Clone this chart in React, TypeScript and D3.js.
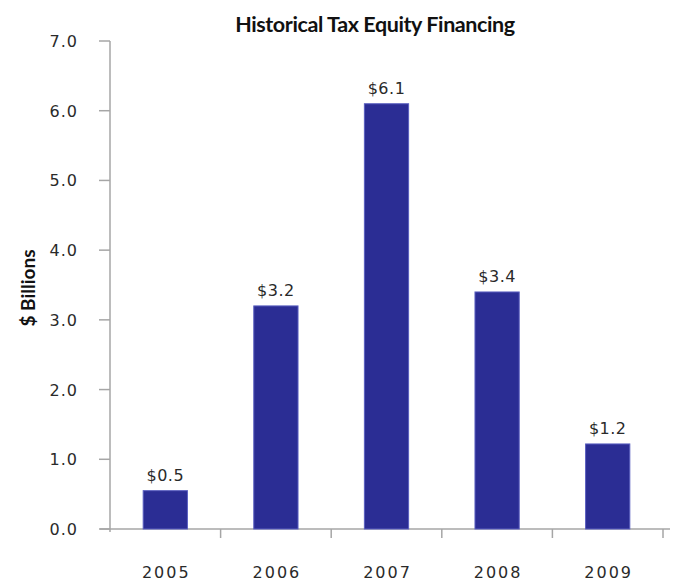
import React from "react";
import * as d3 from "d3";

const categories = ["2005", "2006", "2007", "2008", "2009"];
const values = [0.55, 3.2, 6.1, 3.4, 1.22];
const valueLabels = ["$0.5", "$3.2", "$6.1", "$3.4", "$1.2"];
const yTicks = [0, 1, 2, 3, 4, 5, 6, 7];

export default function App() {
  const W = 686, H = 582;
  const left = 110, right = 663, top = 41, bottom = 529;
  const x = d3.scaleBand<string>().domain(categories).range([left, right]).paddingInner(0.6).paddingOuter(0.3);
  const xb = d3.scaleBand<string>().domain(categories).range([left, right]);
  const y = d3.scaleLinear().domain([0, 7]).range([bottom, top]);
  const axisColor = "#a6a6a6";
  const textColor = "#2a2a2a";
  const numFont = "'DejaVu Sans', Verdana, sans-serif";
  const boldFont = "Lato, 'Open Sans', sans-serif";
  return (
    <svg width={W} height={H} style={{ position: "absolute", left: 0, top: 0, background: "#fff" }}>
      <text x={375} y={32} textAnchor="middle" fontFamily={boldFont} fontWeight="bold" fontSize={21.5} fill="#111" letterSpacing={-0.4}>
        Historical Tax Equity Financing
      </text>
      <text transform={`translate(35,${288}) rotate(-90)`} textAnchor="middle" fontFamily={boldFont} fontWeight="bold" fontSize={19} fill="#111">
        $ Billions
      </text>
      {/* y axis */}
      <line x1={left} x2={left} y1={top} y2={bottom + 3} stroke={axisColor} strokeWidth={1.5} />
      {yTicks.map((t) => (
        <g key={t}>
          <line x1={left - 11} x2={left} y1={y(t)} y2={y(t)} stroke={axisColor} strokeWidth={1.5} />
          <text x={78} y={y(t) + 6} textAnchor="end" fontFamily={numFont} fontSize={16} fill={textColor} letterSpacing={1}>
            {t.toFixed(1)}
          </text>
        </g>
      ))}
      {/* x axis */}
      <line x1={left - 10} x2={670} y1={bottom} y2={bottom} stroke={axisColor} strokeWidth={1.5} />
      {categories.map((c) => (
        <line key={"t" + c} x1={(xb(c) as number) + xb.bandwidth()} x2={(xb(c) as number) + xb.bandwidth()} y1={bottom} y2={bottom + 9} stroke={axisColor} strokeWidth={1.5} />
      ))}
      {categories.map((c, i) => (
        <g key={c}>
          <rect x={x(c)} y={y(values[i])} width={x.bandwidth()} height={bottom - y(values[i])} fill="#2B2D94" stroke="#5a5fc0" strokeWidth={1} />
          <text x={(x(c) as number) + x.bandwidth() / 2} y={y(values[i]) - 10} textAnchor="middle" fontFamily={numFont} fontSize={16} fill={textColor} letterSpacing={0.5}>
            {valueLabels[i]}
          </text>
          <text x={(xb(c) as number) + xb.bandwidth() / 2 + 1} y={578} textAnchor="middle" fontFamily={numFont} fontSize={16} fill={textColor} letterSpacing={2}>
            {c}
          </text>
        </g>
      ))}
    </svg>
  );
}
